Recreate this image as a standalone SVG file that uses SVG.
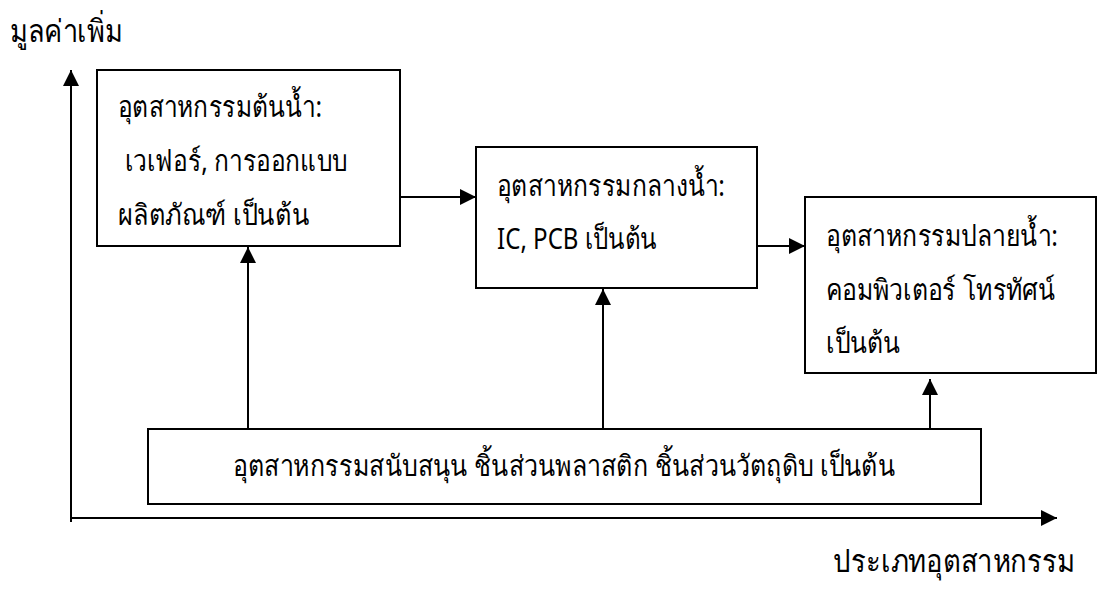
<svg xmlns="http://www.w3.org/2000/svg" width="1113" height="594" viewBox="0 0 1113 594">
<style>
.box{fill:#fff;stroke:#000;stroke-width:2}
.ln{stroke:#000;stroke-width:2;fill:none}
.t{font-family:"Noto Sans","DejaVu Sans",sans-serif;font-size:29px;fill:#000}
.ax{font-size:31px}
</style>
<defs>
<marker id="ah" viewBox="0 0 16 16" refX="16" refY="8" markerWidth="16" markerHeight="16" markerUnits="userSpaceOnUse" orient="auto">
<path d="M0,0 L16,8 L0,16 Z" fill="#000"/>
</marker>
</defs>
<rect width="1113" height="594" fill="#fff"/>
<g id="connectors">
<line class="ln" x1="71" y1="522" x2="71" y2="70" marker-end="url(#ah)"/>
<line class="ln" x1="70" y1="518" x2="1057" y2="518" marker-end="url(#ah)"/>
<line class="ln" x1="401" y1="197" x2="476" y2="197" marker-end="url(#ah)"/>
<line class="ln" x1="757" y1="246" x2="805" y2="246" marker-end="url(#ah)"/>
<line class="ln" x1="248" y1="429" x2="248" y2="247" marker-end="url(#ah)"/>
<line class="ln" x1="603" y1="429" x2="603" y2="289" marker-end="url(#ah)"/>
<line class="ln" x1="930" y1="429" x2="930" y2="379" marker-end="url(#ah)"/>
</g>
<g id="axis-y-label"><text class="t ax" x="10" y="42" textLength="112" lengthAdjust="spacingAndGlyphs">มูลค่าเพิ่ม</text></g>
<g id="axis-x-label"><text class="t ax" x="833" y="572" textLength="242" lengthAdjust="spacingAndGlyphs">ประเภทอุตสาหกรรม</text></g>
<g id="upstream">
<rect class="box" x="97" y="70" width="303" height="176"/>
<text class="t" x="118" y="117" textLength="204" lengthAdjust="spacingAndGlyphs">อุตสาหกรรมต้นน้ำ:</text>
<text class="t" x="125" y="171" textLength="222" lengthAdjust="spacingAndGlyphs">เวเฟอร์, การออกแบบ</text>
<text class="t" x="118" y="225" textLength="191" lengthAdjust="spacingAndGlyphs">ผลิตภัณฑ์ เป็นต้น</text>
</g>
<g id="midstream">
<rect class="box" x="476" y="147" width="281" height="141"/>
<text class="t" x="497" y="196" textLength="228" lengthAdjust="spacingAndGlyphs">อุตสาหกรรมกลางน้ำ:</text>
<text class="t" x="497" y="249" textLength="160" lengthAdjust="spacingAndGlyphs">IC, PCB เป็นต้น</text>
</g>
<g id="downstream">
<rect class="box" x="805" y="197" width="291" height="176"/>
<text class="t" x="826" y="246" textLength="232" lengthAdjust="spacingAndGlyphs">อุตสาหกรรมปลายน้ำ:</text>
<text class="t" x="826" y="300" textLength="229" lengthAdjust="spacingAndGlyphs">คอมพิวเตอร์ โทรทัศน์</text>
<text class="t" x="826" y="353" textLength="74" lengthAdjust="spacingAndGlyphs">เป็นต้น</text>
</g>
<g id="supporting">
<rect class="box" x="148" y="429" width="833" height="75"/>
<text class="t" x="233" y="476" textLength="662" lengthAdjust="spacingAndGlyphs">อุตสาหกรรมสนับสนุน ชิ้นส่วนพลาสติก ชิ้นส่วนวัตถุดิบ เป็นต้น</text>
</g>
</svg>
